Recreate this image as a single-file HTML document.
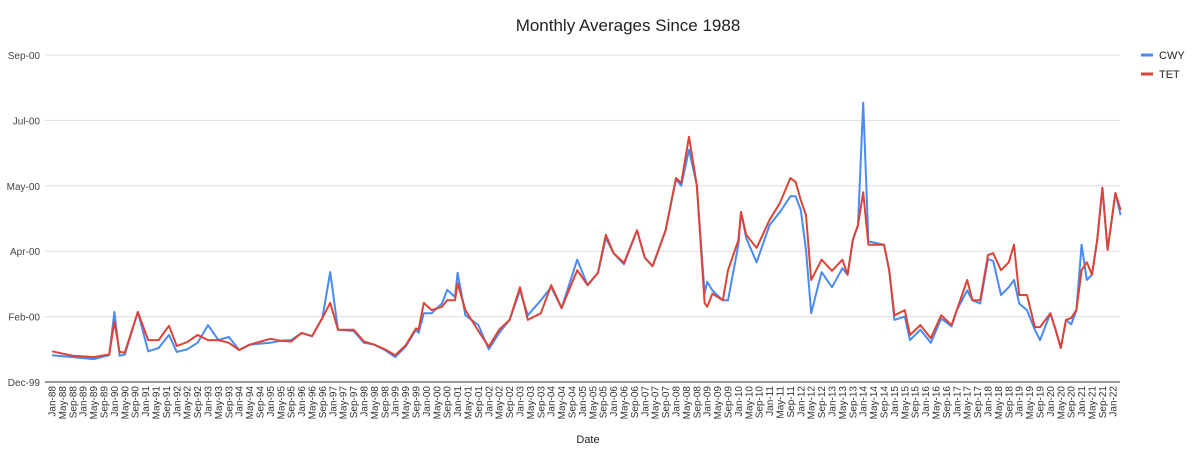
<!DOCTYPE html>
<html><head><meta charset="utf-8">
<style>
body{margin:0;background:#fff;width:1200px;height:455px;overflow:hidden;font-family:"Liberation Sans",sans-serif}
svg text{font-family:"Liberation Sans",sans-serif}
</style></head>
<body>
<svg id="chart" width="1200" height="455" viewBox="0 0 1200 455" xmlns="http://www.w3.org/2000/svg">
<text x="628" y="31" text-anchor="middle" font-size="17" fill="#222">Monthly Averages Since 1988</text>
<g id="grid"></g>
<g id="ylabels"></g>
<g id="xlabels"></g>
<g id="series"></g>
<text x="588" y="443" text-anchor="middle" font-size="11" fill="#222">Date</text>
<g>
<g><line x1="1141" y1="55" x2="1153" y2="55" stroke="#4a8af4" stroke-width="3"/><text x="1159" y="59" font-size="11" fill="#222">CWY</text></g>
<g><line x1="1141" y1="74" x2="1153" y2="74" stroke="#db4437" stroke-width="3"/><text x="1159" y="78" font-size="11" fill="#222">TET</text></g>
</g>
</svg>
<script>
const yTickLabels=["Dec-99","Feb-00","Apr-00","May-00","Jul-00","Sep-00"];
const monthNames=["Jan","May","Sep"];
const monthIdx=[0,8,16,22,24,26,28,33,37,41,45,48,52,56,60,64,68,72,76,84,88,92,96,100,104,107,110,116,120,124,128,132,136,140,141,143,146,150,152,155,156,159,164,168,172,176,180,183,188,192,196,202,206,210,213,216,220,225,228,231,236,240,242,245,248,251,252,254,258,260,264,265,267,271,276,280,284,286,288,290,292,296,300,304,306,308,310,312,314,320,322,324,328,330,334,338,342,346,348,352,354,357,360,362,365,368,370,372,375,378,380,384,386,388,390,392,394,396,398,400,402,404,406,409,411];
const cwy=[.41,.38,.35,.41,1.07,.40,.42,1.07,.47,.52,.72,.46,.50,.60,.87,.64,.69,.49,.57,.60,.63,.64,.75,.70,.98,1.68,.80,.78,.60,.57,.49,.38,.54,.80,.75,1.05,1.05,1.2,1.41,1.30,1.67,1.02,.87,.50,.75,.95,1.40,1.02,1.25,1.45,1.13,1.87,1.48,1.67,2.2,1.97,1.80,2.32,1.9,1.77,2.32,3.10,3.0,3.55,3.01,1.35,1.53,1.4,1.25,1.25,2.1,2.6,2.2,1.83,2.4,2.6,2.84,2.84,2.63,2.02,1.05,1.68,1.45,1.74,1.64,2.17,2.4,4.27,2.15,2.1,1.71,.95,1.0,.64,.80,.60,.97,.85,1.1,1.40,1.25,1.2,1.88,1.85,1.33,1.45,1.56,1.2,1.1,.80,.64,1.05,.80,.52,.95,.88,1.1,2.1,1.56,1.64,2.17,2.97,2.02,2.89,2.55];
const tet=[.47,.40,.38,.42,.92,.46,.45,1.07,.64,.64,.86,.55,.61,.72,.64,.64,.60,.49,.57,.66,.63,.62,.75,.70,.98,1.21,.80,.80,.62,.57,.50,.41,.56,.82,.80,1.21,1.1,1.15,1.25,1.25,1.51,1.1,.78,.54,.80,.95,1.45,.95,1.05,1.48,1.13,1.71,1.48,1.67,2.25,1.97,1.82,2.32,1.9,1.77,2.32,3.12,3.04,3.75,3.01,1.21,1.15,1.35,1.25,1.71,2.17,2.6,2.25,2.05,2.48,2.74,3.12,3.06,2.78,2.55,1.56,1.87,1.7,1.87,1.64,2.17,2.4,2.9,2.1,2.1,1.71,1.02,1.1,.72,.87,.67,1.02,.87,1.1,1.56,1.25,1.25,1.94,1.97,1.71,1.83,2.1,1.33,1.33,.84,.84,1.05,.80,.52,.95,.98,1.1,1.71,1.83,1.64,2.17,2.97,2.02,2.89,2.63];
const NS="http://www.w3.org/2000/svg";
const X0=52,PX=2.6,Y0=382,PY=65.4;
function xs(m){return X0+m*PX}
function ys(v){return Y0-v*PY}
const grid=document.getElementById('grid'),yl=document.getElementById('ylabels'),xl=document.getElementById('xlabels'),ser=document.getElementById('series');
yTickLabels.forEach((t,i)=>{
  const l=document.createElementNS(NS,'line');
  l.setAttribute('x1',45);l.setAttribute('x2',1120);l.setAttribute('y1',ys(i));l.setAttribute('y2',ys(i));
  l.setAttribute('stroke',i===0?'#333':'#ddd');l.setAttribute('stroke-width',1);
  
  
  grid.appendChild(l);
  const tx=document.createElementNS(NS,'text');
  tx.setAttribute('x',40);tx.setAttribute('y',ys(i)+4);tx.setAttribute('text-anchor','end');tx.setAttribute('font-size','10');tx.setAttribute('fill','#444');
  tx.textContent=t;
  
  
  yl.appendChild(tx);
});
for(let m=0;m<=408;m+=4){
  const yr=88+Math.floor(m/12);const lab=monthNames[(m%12)/4]+'-'+String(yr%100).padStart(2,'0');
  const tx=document.createElementNS(NS,'text');
  const x=xs(m)+3.5;
  tx.setAttribute('transform','translate('+x+',386) rotate(-90)');
  tx.setAttribute('text-anchor','end');tx.setAttribute('font-size','10');tx.setAttribute('fill','#333');
  tx.textContent=lab;
  
  
  xl.appendChild(tx);
}
function draw(vals,color,name){
  const p=document.createElementNS(NS,'path');
  p.setAttribute('d',vals.map((v,i)=>(i?'L':'M')+xs(monthIdx[i]).toFixed(1)+','+ys(v).toFixed(1)).join(''));
  p.setAttribute('fill','none');p.setAttribute('stroke',color);p.setAttribute('stroke-width','2');p.setAttribute('stroke-linejoin','round');
  
  
  ser.appendChild(p);
}
draw(cwy,'#4a8af4','cwy-line');
draw(tet,'#db4437','tet-line');
</script>
</body></html>
